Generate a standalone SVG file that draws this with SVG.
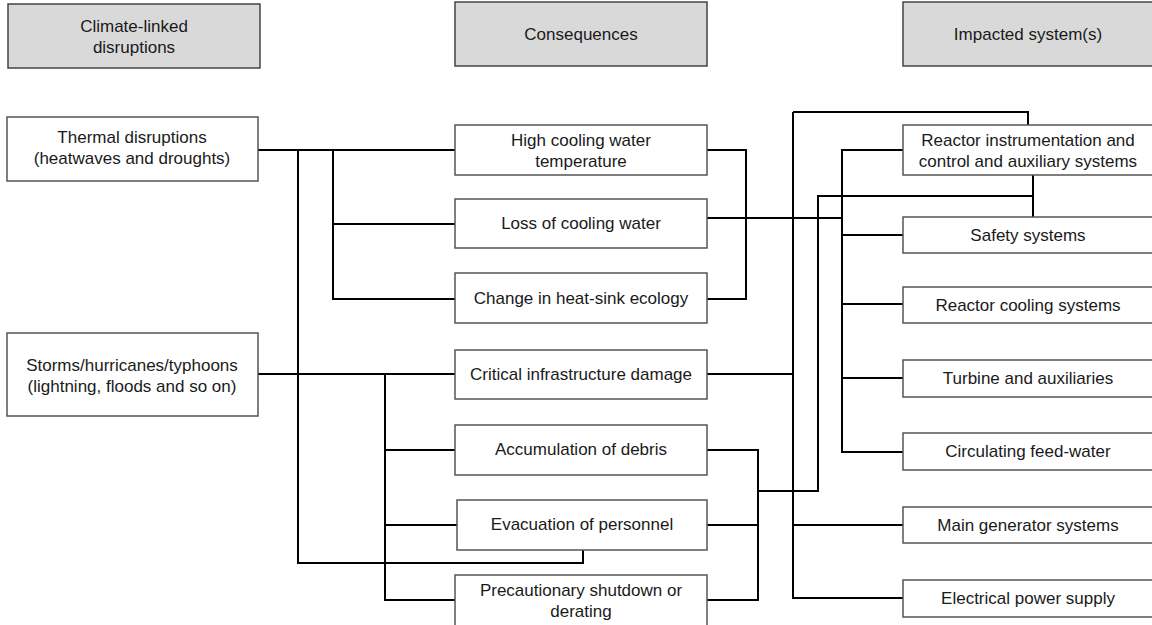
<svg xmlns="http://www.w3.org/2000/svg" width="1152" height="625" viewBox="0 0 1152 625">
<style>
.hdr{fill:#d9d9d9;stroke:#444;stroke-width:1.5}
.box{fill:#fff;stroke:#555;stroke-width:1.5}
.t{font-family:"Liberation Sans",Arial,sans-serif;font-size:17px;fill:#1a1a1a;text-anchor:middle;dominant-baseline:central}
.c{fill:none;stroke:#000;stroke-width:2}
</style>
<rect width="1152" height="625" fill="#fff"/>
<g id="connectors" class="c">
<path d="M258,150 H455"/>
<path d="M298,150 V563 H583 V550"/>
<path d="M333,150 V299 H455 M333,224 H455"/>
<path d="M258,374 H455"/>
<path d="M385,374 V600 H455 M385,450 H455 M385,525 H457"/>
<path d="M707,150 H746 V299 H707"/>
<path d="M707,218 H842"/>
<path d="M707,374 H793"/>
<path d="M793,112 H1028 V125 M793,112 V598 H903 M793,525 H903"/>
<path d="M903,150 H842 V452 H903 M842,235 H903 M842,304 H903 M842,378 H903"/>
<path d="M707,450 H758 V600 H707 M707,525 H758 M758,491 H818 V196 H1033 M1033,175 V217"/>
</g>
<g id="h-climate"><rect class="hdr" x="8" y="4" width="252" height="64"/><text class="t" x="134" y="26">Climate-linked</text><text class="t" x="134" y="47">disruptions</text></g>
<g id="h-consequences"><rect class="hdr" x="455" y="2" width="252" height="64"/><text class="t" x="581" y="34">Consequences</text></g>
<g id="h-impacted"><rect class="hdr" x="903" y="2" width="252" height="64"/><text class="t" x="1028" y="34">Impacted system(s)</text></g>
<g id="thermal"><rect class="box" x="7" y="117" width="251" height="64"/><text class="t" x="132" y="137">Thermal disruptions</text><text class="t" x="132" y="158">(heatwaves and droughts)</text></g>
<g id="storms"><rect class="box" x="7" y="333" width="251" height="83"/><text class="t" x="132" y="365">Storms/hurricanes/typhoons</text><text class="t" x="132" y="386">(lightning, floods and so on)</text></g>
<g id="high-temp"><rect class="box" x="455" y="125" width="252" height="50"/><text class="t" x="581" y="140">High cooling water</text><text class="t" x="581" y="161">temperature</text></g>
<g id="loss-water"><rect class="box" x="455" y="199" width="252" height="49"/><text class="t" x="581" y="223">Loss of cooling water</text></g>
<g id="heat-sink"><rect class="box" x="455" y="273" width="252" height="50"/><text class="t" x="581" y="298">Change in heat-sink ecology</text></g>
<g id="critical"><rect class="box" x="455" y="350" width="252" height="49"/><text class="t" x="581" y="374">Critical infrastructure damage</text></g>
<g id="debris"><rect class="box" x="455" y="425" width="252" height="50"/><text class="t" x="581" y="449">Accumulation of debris</text></g>
<g id="evacuation"><rect class="box" x="457" y="500" width="250" height="50"/><text class="t" x="582" y="524">Evacuation of personnel</text></g>
<g id="shutdown"><rect class="box" x="455" y="575" width="252" height="55"/><text class="t" x="581" y="590">Precautionary shutdown or</text><text class="t" x="581" y="611">derating</text></g>
<g id="instrumentation"><rect class="box" x="903" y="125" width="250" height="50"/><text class="t" x="1028" y="140">Reactor instrumentation and</text><text class="t" x="1028" y="161">control and auxiliary systems</text></g>
<g id="safety"><rect class="box" x="903" y="217" width="250" height="36"/><text class="t" x="1028" y="235">Safety systems</text></g>
<g id="cooling"><rect class="box" x="903" y="287" width="250" height="36"/><text class="t" x="1028" y="305">Reactor cooling systems</text></g>
<g id="turbine"><rect class="box" x="903" y="360" width="250" height="37"/><text class="t" x="1028" y="378">Turbine and auxiliaries</text></g>
<g id="feedwater"><rect class="box" x="903" y="433" width="250" height="37"/><text class="t" x="1028" y="451">Circulating feed-water</text></g>
<g id="generator"><rect class="box" x="903" y="507" width="250" height="36"/><text class="t" x="1028" y="525">Main generator systems</text></g>
<g id="power"><rect class="box" x="903" y="580" width="250" height="37"/><text class="t" x="1028" y="598">Electrical power supply</text></g>
</svg>
